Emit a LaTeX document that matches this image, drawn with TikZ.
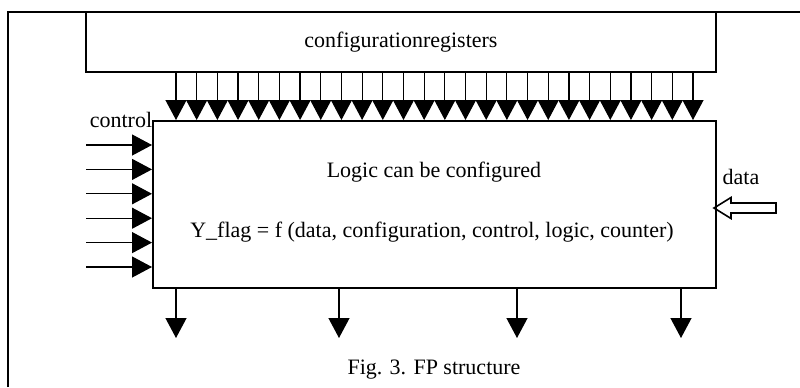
\documentclass[tikz,border=0pt]{standalone}
\usepackage{fontspec}
\setmainfont{Liberation Serif}
\usetikzlibrary{arrows.meta}
\begin{document}
\begin{tikzpicture}[x=0.5pt,y=-0.5pt,
  box/.style={draw,line width=1pt,inner sep=0pt},
  sig/.style={line width=0.6pt,-{Triangle[width=10.5pt,length=10pt]}},
  lbl/.style={inner sep=0pt,font=\fontsize{11}{13}\selectfont}]
\useasboundingbox (0,0) rectangle (800,387);
% frame
\draw[line width=0.8pt] (8,387) -- (8,12) -- (800,12);
% blocks
\node[box,lbl,minimum width=315pt,minimum height=30pt] (cfg) at (401,42) {configurationregisters};
\node[box,minimum width=281.5pt,minimum height=83.5pt] (fp) at (434.5,204.5) {};
\node[lbl] (logic) at (434,172) {Logic can be configured};
\node[lbl] (yflag) at (432,232) {Y\_flag = f (data, configuration, control, logic, counter)};
% configuration lines
\foreach \i in {0,...,25}
  \draw[sig] (176+\i*20.68,0 |- cfg.south) -- (176+\i*20.68,0 |- fp.north);
% control inputs
\node[lbl] (ctl) at (121,120) {control};
\foreach \i in {0,...,5}
  \draw[sig] (86,145+\i*24.4) -- (fp.west |- 0,145+\i*24.4);
% outputs
\foreach \x in {176,339,517,681}
  \draw[sig] (\x,0 |- fp.south) -- (\x,338);
% data input
\node[lbl] (dat) at (741,177) {data};
\coordinate (dtip) at ([xshift=-1.5pt]fp.east |- 0,208);
\draw[line width=0.8pt] (dtip) -- ++(17,-10.5) -- ++(0,5.5) -- ++(45,0) -- ++(0,10)
  -- ++(-45,0) -- ++(0,5.5) -- cycle;
\node[lbl] (cap) at (434,370) {Fig. 3. FP structure};
\end{tikzpicture}
\end{document}
